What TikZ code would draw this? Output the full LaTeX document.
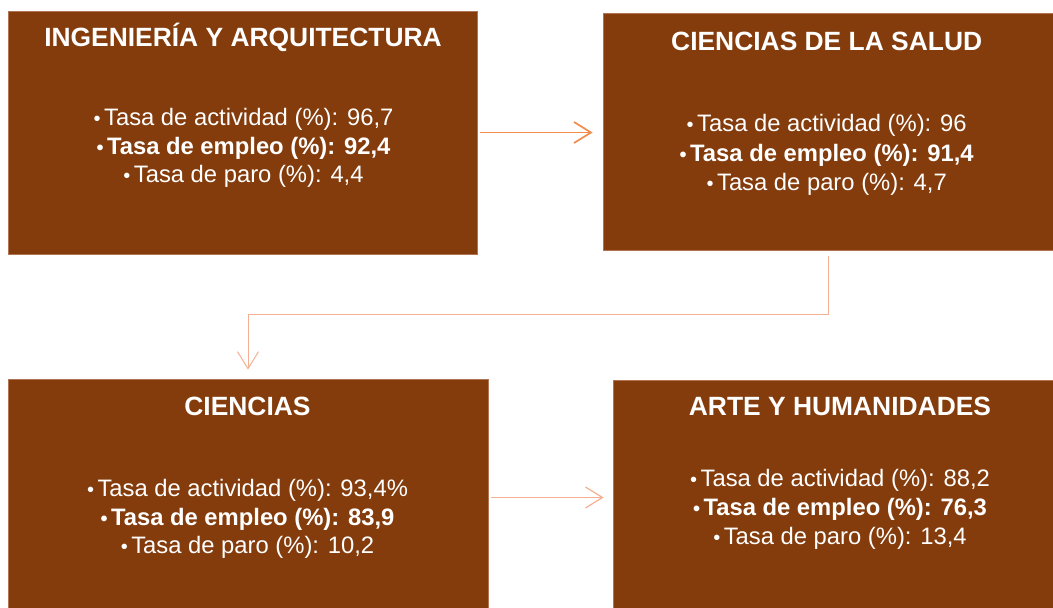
\documentclass[tikz,border=0pt]{standalone}
\usepackage{fontspec}
\setmainfont{Liberation Sans}
\usetikzlibrary{arrows.meta,calc}
\definecolor{boxbrown}{HTML}{843C0C}
\definecolor{boxedge}{HTML}{B07452}
\definecolor{arrA}{HTML}{F08C4E}
\definecolor{arrB}{HTML}{F5B092}
\newcommand{\bul}{{\fontsize{20}{20}\selectfont•}\kern3.5pt}
\tikzset{
  panel/.style={rectangle, draw=boxedge, line width=0.8pt, fill=boxbrown, inner sep=0pt},
  ttl/.style={anchor=base, text=white, inner sep=0pt, font=\fontsize{26.4}{30}\selectfont\bfseries},
  txt/.style={anchor=base, text=white, inner sep=0pt, font=\fontsize{23.8}{28}\selectfont},
  txtb/.style={txt, font=\fontsize{23.8}{28}\selectfont\bfseries},
  tipV/.style={-{Straight Barb[length=17pt,width=21pt]}},
  connA/.style={draw=arrA, line width=1.7pt, tipV},
  connB/.style={draw=arrB, line width=1.2pt, tipV}
}
\begin{document}
\begin{tikzpicture}[x=1pt,y=-1pt]
\useasboundingbox (0,0) rectangle (1053,608);
\fill[white] (0,0) rectangle (1053,608);
\begin{scope}
\clip (0,0) rectangle (1053,608);
\node[panel, minimum width=469pt, minimum height=243pt] (b1) at (242.5,132.5) {};
\node[panel, minimum width=450pt, minimum height=237pt] (b2) at (828,131.7) {};
\node[panel, minimum width=480pt, minimum height=237pt] (b3) at (248,497.5) {};
\node[panel, minimum width=440pt, minimum height=235pt] (b4) at (833,497.5) {};
\end{scope}

% box 1
\node[ttl] (t1) at (243,46.7) {INGENIERÍA Y ARQUITECTURA};
\node[txt] (a1) at (243.5,125) {\bul Tasa de actividad (\%): 96,7};
\node[txtb] (e1) at (243.5,154.3) {\bul Tasa de empleo (\%): 92,4};
\node[txt] (p1) at (243.5,182.7) {\bul Tasa de paro (\%): 4,4};

% box 2
\node[ttl] (t2) at (826.7,50) {CIENCIAS DE LA SALUD};
\node[txt] (a2) at (826.7,131.7) {\bul Tasa de actividad (\%): 96};
\node[txtb] (e2) at (826.7,161) {\bul Tasa de empleo (\%): 91,4};
\node[txt] (p2) at (826.7,190) {\bul Tasa de paro (\%): 4,7};

% box 3
\node[ttl] (t3) at (247.5,415) {CIENCIAS};
\node[txt] (a3) at (247.5,496) {\bul Tasa de actividad (\%): 93,4\%};
\node[txtb] (e3) at (247.5,525) {\bul Tasa de empleo (\%): 83,9};
\node[txt] (p3) at (247.5,553.3) {\bul Tasa de paro (\%): 10,2};

% box 4
\node[ttl] (t4) at (840,415) {ARTE Y HUMANIDADES};
\node[txt] (a4) at (840,486.7) {\bul Tasa de actividad (\%): 88,2};
\node[txtb] (e4) at (840,515.7) {\bul Tasa de empleo (\%): 76,3};
\node[txt] (p4) at (840,544.3) {\bul Tasa de paro (\%): 13,4};

% connectors
\draw[connA, shorten <=3pt, shorten >=10pt] (b1.east) -- (b1.east -| b2.west);
\draw[connB, line width=1pt, shorten <=5pt, shorten >=9pt] (b2.south) |- ($(b2.south)!.5!(b3.north)$) -| (b3.north);
\draw[connB, shorten <=3pt, shorten >=9pt] (b3.east) -- (b3.east -| b4.west);
\end{tikzpicture}
\end{document}
